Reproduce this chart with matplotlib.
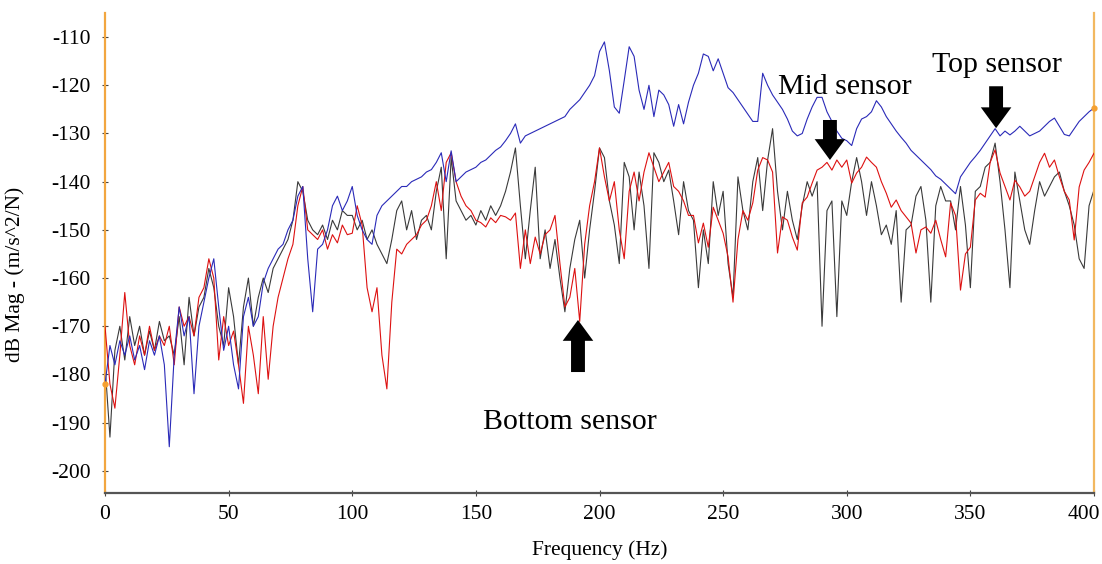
import numpy as np
import matplotlib
matplotlib.use("Agg")
import matplotlib.pyplot as plt
from matplotlib.patches import ArrowStyle

# ---------------- data (dB Mag, 2 Hz spacing) ----------------
freq = list(range(0, 401, 2))

top_sensor = [
    -182, -174, -178, -173, -176, -172, -177, -174, -179, -173,
    -176, -172, -178, -195, -176, -166, -172, -168, -184, -170,
    -165, -160, -156, -166, -175, -170, -178, -183, -168, -164,
    -170, -168, -161, -158, -156, -154, -153, -150, -148, -143,
    -141, -156, -167, -154, -153, -150, -145, -143, -146, -144,
    -141, -147, -150, -152, -153, -147, -145, -144, -143, -142,
    -141, -141, -140, -139.5, -139, -138, -137.5, -136, -134, -140,
    -133.6, -140, -139, -138, -137.5, -137, -136, -135.5, -134.5, -133.5,
    -132.8, -131.5, -130, -128, -132, -130.5, -130, -129.5, -129, -128.5,
    -128, -127.5, -127, -126.5, -125, -124, -123, -121.5, -120, -118,
    -113, -111, -117, -124.5, -125.8, -119, -112, -114, -121, -125,
    -120, -126.5, -121, -122, -124, -128.5, -124, -128, -123.5, -120,
    -117.5, -113.5, -114, -117, -114.5, -117.5, -120.5, -121.5, -123, -124.5,
    -126, -127.5, -127.5, -117.5, -120, -122, -123.5, -125, -127, -129.5,
    -130.5, -130, -127, -124.5, -122.5, -122.5, -125.5, -127.5, -129.5, -131,
    -131.5, -132.5, -129, -127, -126.5, -125.5, -123.2, -124.5, -126.5, -128,
    -129.5, -130.8, -132, -133.5, -134.5, -135.5, -136.5, -137.5, -138.8, -139.5,
    -140.5, -141.5, -142.5, -139, -137.5, -136, -134.8, -133.5, -132, -130.5,
    -129, -130.5, -129.5, -130.3, -129.5, -128.5, -129.5, -130.5, -130, -129.5,
    -128.5, -127.5, -126.8, -128.5, -130.2, -130.5, -129, -127.5, -126.5, -125.5,
    -124.7,
]

mid_sensor = [
    -178, -193, -175, -170, -177, -168, -174, -170, -176, -171,
    -175, -169, -173, -172, -176, -168, -178, -164, -172, -166,
    -164, -158, -162, -170, -174, -162, -168, -178, -166, -160,
    -170, -164, -160, -163, -158, -156, -154, -152, -148, -140,
    -142, -148, -150, -151, -149, -152, -148, -150, -146, -147,
    -147, -150, -148, -152, -150, -153, -155, -157, -152, -146,
    -144, -150, -146, -152, -148, -147, -150, -142, -137, -156,
    -135, -144, -146, -148, -147, -149, -146, -148, -145, -147,
    -145, -142, -138, -133, -145, -156, -146, -137, -156, -150,
    -158, -152, -160, -167, -158, -152, -148, -160, -150, -142,
    -133, -135, -144, -149, -157, -136, -139, -150, -138, -145,
    -158, -134, -136, -140, -137.6, -144, -151, -140, -146, -148,
    -162, -150, -157, -140, -147, -142, -157, -164, -139, -146,
    -150, -140, -135, -146, -135.5, -129, -142, -150, -142, -148,
    -152, -145, -140, -143, -140, -170, -146, -144, -168, -144,
    -147, -140, -135, -140, -147, -140, -145, -151, -149, -153,
    -146, -165, -150, -149, -143, -141, -148, -165, -145, -141,
    -144, -144, -150, -141, -149, -162, -142, -141, -137, -136,
    -132, -140, -150, -162, -138, -144, -150, -153, -146, -140,
    -143, -141, -139, -138, -142, -145, -149, -156, -158, -145,
    -141.7,
]

bottom_sensor = [
    -170, -182, -187, -176, -163, -174, -178, -172, -176, -170,
    -175, -172, -174, -170, -178, -166, -170, -168, -172, -164,
    -162, -156, -160, -177, -168, -174, -171, -178, -186, -170,
    -176, -184, -168, -181, -170, -164, -160, -156, -153, -145,
    -141, -150, -151, -152, -150, -154, -151, -152.7, -149, -151,
    -150.7, -145, -149, -162, -167, -162, -176, -183, -165, -154,
    -155, -153, -152, -151, -149, -148, -145, -140, -146, -136,
    -134, -140, -143, -145, -146, -148, -148.5, -149.4, -147.5, -148.5,
    -147, -147.3, -148, -146.5, -158, -150, -157, -151.5, -155, -151,
    -150, -147, -157, -166, -164, -158, -169, -153, -145, -140,
    -133, -139, -144, -140, -150, -156, -142, -138, -144, -138,
    -134, -137, -140, -138, -136, -141, -142, -144, -147, -147,
    -152.7, -148.6, -153.6, -145.3, -148, -150.7, -155.6, -165, -152, -146,
    -148, -144.4, -137.6, -135, -135.5, -138, -154.8, -147.3, -148, -151.5,
    -154.2, -144.4, -143.2, -140.3, -137.6, -137, -136, -137.6, -135.5, -137,
    -135.5, -140.3, -138.2, -137, -134.9, -136, -137, -140, -142.4, -145.3,
    -143.8, -146, -147.3, -148.6, -154.8, -150, -149.4, -150.7, -148, -152,
    -155.6, -144.4, -147, -162.5, -155, -153.6, -143.8, -142.4, -143.2, -136,
    -133.4, -138.2, -141, -143.8, -139.7, -141.1, -143, -142, -139, -136,
    -134.1, -137, -135.5, -139, -142, -143.8, -152.1, -141.1, -137.6, -136,
    -134.1,
]

x_ticks = [0, 50, 100, 150, 200, 250, 300, 350, 400]
y_ticks = [-200, -190, -180, -170, -160, -150, -140, -130, -120, -110]

# ---------------- figure ----------------
plt.rcParams["font.family"] = ["Liberation Serif", "DejaVu Serif"]

fig = plt.figure(figsize=(11.02, 5.64), dpi=100)
ax = fig.add_axes([105 / 1102, 1 - 493 / 564, (1094 - 105) / 1102, (493 - 13) / 564])

ax.plot(freq, mid_sensor, color="#3a3a3a", lw=0.8, zorder=2)
ax.plot(freq, bottom_sensor, color="#dd1111", lw=0.8, zorder=3)
ax.plot(freq, top_sensor, color="#2a2ab8", lw=0.8, zorder=4)
ax.plot([freq[0], freq[-1]], [top_sensor[0], top_sensor[-1]], "o",
        color="#f5a030", ms=3.5, zorder=6, clip_on=False)

ax.set_xlim(0, 400)
ax.set_ylim(-204.6, -105.0)
ax.set_xticks(x_ticks)
ax.set_yticks(y_ticks)
ax.set_xticklabels([str(v) for v in x_ticks])
ax.set_yticklabels([str(v) for v in y_ticks])

ax.tick_params(axis="both", labelsize=15.5, direction="inout", length=5,
               width=0.8, color="#444444")
ax.tick_params(axis="x", pad=6)
ax.tick_params(axis="y", pad=8)
# the last x label sits just inside the figure edge, as in the reference
last = ax.get_xticklabels()[-1]
last.set_horizontalalignment("right")
last.set_x(400)
import matplotlib.transforms as mtransforms
last.set_transform(last.get_transform() + mtransforms.ScaledTranslation(6 / 100, 0, fig.dpi_scale_trans))

ax.spines["top"].set_visible(False)
ax.spines["bottom"].set_color("#555555")
ax.spines["bottom"].set_linewidth(1.6)
ax.spines["left"].set_color("#f2a640")
ax.spines["left"].set_linewidth(1.6)
ax.spines["right"].set_color("#f2b860")
ax.spines["right"].set_linewidth(1.6)

ax.set_xlabel("Frequency (Hz)", fontsize=15.5)
ax.set_ylabel("dB Mag - (m/s^2/N)", fontsize=15.5)
ax.xaxis.set_label_coords(0.5, -0.098)
ax.yaxis.set_label_coords(-0.081, 0.456)

# annotations
txt_kw = dict(fontsize=21.5, ha="center", va="center", zorder=7)
ax.text(299.3, -120.4, "Mid sensor", **txt_kw)
ax.text(360.8, -115.8, "Top sensor", **txt_kw)
ax.text(188.1, -189.8, "Bottom sensor", **txt_kw)

style = ArrowStyle.Simple(head_length=0.75, head_width=1.1, tail_width=0.5)
arrow_kw = dict(arrowstyle=style, color="black", mutation_scale=20,
                shrinkA=0, shrinkB=0, lw=0)
ax.annotate("", xy=(293.2, -135.5), xytext=(293.2, -127.2), arrowprops=arrow_kw, zorder=8)
ax.annotate("", xy=(360.4, -128.9), xytext=(360.4, -120.2), arrowprops=arrow_kw, zorder=8)
ax.annotate("", xy=(191.3, -168.7), xytext=(191.3, -179.5), arrowprops=arrow_kw, zorder=8)

fig.savefig("out.png", dpi=100, facecolor="white")
